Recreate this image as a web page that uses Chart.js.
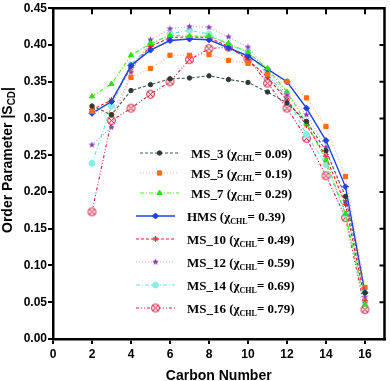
<!DOCTYPE html>
<html>
<head>
<meta charset="utf-8">
<script src="https://cdn.jsdelivr.net/npm/chart.js@4.4.1/dist/chart.umd.min.js"></script>
<style>
  html, body { margin: 0; padding: 0; background: #fff; }
  canvas { display: block; }
</style>
</head>
<body>
<canvas id="chart" width="390" height="381"></canvas>
<script>
// data
const carbonNumbers = [2, 3, 4, 5, 6, 7, 8, 9, 10, 11, 12, 13, 14, 15, 16];
const seriesNames = ['MS_3', 'MS_5', 'MS_7', 'HMS', 'MS_10', 'MS_12', 'MS_14', 'MS_16'];
const chlFractions = ['0.09', '0.19', '0.29', '0.39', '0.49', '0.59', '0.69', '0.79'];

const ms3 = [0.317, 0.305, 0.338, 0.346, 0.354, 0.355, 0.358, 0.353, 0.349, 0.336, 0.321, 0.296, 0.256, 0.194, 0.063];
const ms5 = [0.310, 0.305, 0.356, 0.368, 0.386, 0.386, 0.387, 0.379, 0.375, 0.360, 0.350, 0.328, 0.289, 0.221, 0.070];
const ms7 = [0.330, 0.347, 0.386, 0.402, 0.413, 0.412, 0.412, 0.402, 0.390, 0.368, 0.336, 0.294, 0.243, 0.170, 0.047];
const hms = [0.307, 0.323, 0.372, 0.393, 0.406, 0.408, 0.407, 0.396, 0.385, 0.367, 0.350, 0.314, 0.270, 0.207, 0.063];
const ms10 = [0.312, 0.325, 0.369, 0.398, 0.410, 0.411, 0.410, 0.398, 0.380, 0.356, 0.325, 0.291, 0.248, 0.183, 0.052];
const ms12 = [0.264, 0.288, 0.363, 0.407, 0.422, 0.425, 0.424, 0.411, 0.397, 0.365, 0.332, 0.305, 0.261, 0.187, 0.057];
const ms14 = [0.239, 0.317, 0.373, 0.400, 0.415, 0.420, 0.415, 0.400, 0.390, 0.360, 0.328, 0.278, 0.237, 0.170, 0.050];
const ms16 = [0.173, 0.297, 0.314, 0.333, 0.350, 0.380, 0.395, 0.397, 0.381, 0.348, 0.314, 0.273, 0.222, 0.165, 0.040];

const xTickValues = [0, 2, 4, 6, 8, 10, 12, 14, 16];
const yTickValues = [0, 0.05, 0.10, 0.15, 0.20, 0.25, 0.30, 0.35, 0.40, 0.45];

const sansBold = "'Liberation Sans', Arial, sans-serif";
const serif = "'Liberation Serif', 'Times New Roman', serif";

// small canvases for markers chart.js doesn't have
function makeStar(color, r) {
  const c = document.createElement('canvas');
  c.width = c.height = r * 2 + 2;
  const g = c.getContext('2d');
  g.translate(r + 1, r + 1);
  g.beginPath();
  for (let i = 0; i < 10; i++) {
    const rad = i % 2 === 0 ? r : r * 0.45;
    const a = -Math.PI / 2 + i * Math.PI / 5;
    g.lineTo(rad * Math.cos(a), rad * Math.sin(a));
  }
  g.closePath();
  g.fillStyle = color;
  g.fill();
  return c;
}

function makeCrossCircle(color, r) {
  const c = document.createElement('canvas');
  c.width = c.height = r * 2 + 2;
  const g = c.getContext('2d');
  g.translate(r + 1, r + 1);
  g.beginPath();
  g.arc(0, 0, r - 0.5, 0, Math.PI * 2);
  g.fillStyle = '#fbe0e4';
  g.fill();
  g.strokeStyle = color;
  g.lineWidth = 1;
  g.stroke();
  const d = (r - 1) * 0.7;
  g.beginPath();
  g.moveTo(-d, -d); g.lineTo(d, d);
  g.moveTo(-d, d); g.lineTo(d, -d);
  g.stroke();
  return c;
}

const seriesValues = [ms3, ms5, ms7, hms, ms10, ms12, ms14, ms16];
const styles = [
  { line: '#4a5a58', point: '#2b3a38', dash: [3, 2], pointStyle: 'circle', radius: 2.2 },
  { line: '#f7b295', point: '#ff6a13', dash: [1, 2], pointStyle: 'rect', radius: 3 },
  { line: '#55ea2c', point: '#33dd11', dash: [4, 2, 1, 2], pointStyle: 'triangle', radius: 3 },
  { line: '#1f3fe0', point: '#1f3fe0', dash: [], pointStyle: 'rectRot', radius: 3, width: 1.4 },
  { line: '#ee2233', point: '#ee2233', dash: [3, 2], pointStyle: 'star', radius: 3 },
  { line: '#c99be3', point: '#8a3db5', dash: [1, 2], pointStyle: makeStar('#8a3db5', 3.5), radius: 3.5 },
  { line: '#6ee0d4', point: '#8aece2', dash: [4, 2, 1, 2], pointStyle: 'circle', radius: 3 },
  { line: '#cc2244', point: '#cc2244', dash: [3, 2, 1, 2, 1, 2], pointStyle: makeCrossCircle('#cc2244', 4.5), radius: 4.5 }
];

const datasets = seriesNames.map((name, i) => ({
  label: name,
  data: carbonNumbers.map((c, j) => ({ x: c, y: seriesValues[i][j] })),
  borderColor: styles[i].line,
  borderWidth: styles[i].width || 1.1,
  borderDash: styles[i].dash,
  backgroundColor: styles[i].point,
  pointBackgroundColor: styles[i].point,
  pointBorderColor: styles[i].point,
  pointBorderWidth: 1,
  pointStyle: styles[i].pointStyle,
  pointRadius: styles[i].radius,
  tension: 0,
  fill: false
}));

// draws runs of text with optional subscripts, left to right
function drawRuns(ctx, runs, x, y) {
  runs.forEach(r => {
    ctx.font = r.font;
    ctx.fillText(r.text, x, y + (r.dy || 0));
    x += ctx.measureText(r.text).width;
  });
}
function runsWidth(ctx, runs) {
  let w = 0;
  runs.forEach(r => { ctx.font = r.font; w += ctx.measureText(r.text).width; });
  return w;
}

const framePlugin = {
  id: 'frame',
  afterDraw(chart) {
    const { ctx, chartArea: a, scales } = chart;
    ctx.save();
    ctx.strokeStyle = '#000';
    ctx.lineWidth = 2.5;
    ctx.beginPath();
    ctx.moveTo(a.left - 1.25, a.top);
    ctx.lineTo(a.right, a.top);
    ctx.lineTo(a.right, a.bottom + 1.25);
    ctx.stroke();
    ctx.lineWidth = 2;
    ctx.beginPath();
    xTickValues.slice(1).forEach(v => {
      const px = scales.x.getPixelForValue(v);
      ctx.moveTo(px, a.top);
      ctx.lineTo(px, a.top + 6);
    });
    yTickValues.slice(1, -1).forEach(v => {
      const py = scales.y.getPixelForValue(v);
      ctx.moveTo(a.right, py);
      ctx.lineTo(a.right - 5, py);
    });
    ctx.stroke();
    ctx.restore();
  }
};

const titlesPlugin = {
  id: 'titles',
  afterDraw(chart) {
    const { ctx, chartArea: a } = chart;
    ctx.save();
    ctx.fillStyle = '#000';
    ctx.textBaseline = 'alphabetic';
    ctx.textAlign = 'left';
    // x title
    const xRuns = [{ text: 'Carbon Number', font: 'bold 14px ' + sansBold }];
    drawRuns(ctx, xRuns, (a.left + a.right) / 2 - runsWidth(ctx, xRuns) / 2, 380);
    // y title, rotated
    const yRuns = [
      { text: 'Order Parameter |S', font: 'bold 14px ' + sansBold },
      { text: 'CD', font: 'bold 10px ' + sansBold, dy: 3 },
      { text: '|', font: 'bold 14px ' + sansBold }
    ];
    ctx.translate(12, 160);
    ctx.rotate(-Math.PI / 2);
    drawRuns(ctx, yRuns, -runsWidth(ctx, yRuns) / 2, 0);
    ctx.restore();
  }
};

const legendPlugin = {
  id: 'innerLegend',
  afterDraw(chart) {
    const { ctx } = chart;
    const drawPoint = Chart.helpers && Chart.helpers.drawPoint;
    ctx.save();
    chart.data.datasets.forEach((ds, i) => {
      const rowY = i < 3 ? 153 + i * 20 : 216 + (i - 3) * 23;
      const x0 = i < 3 ? 140 : 136;
      ctx.strokeStyle = ds.borderColor;
      ctx.lineWidth = ds.borderWidth;
      ctx.setLineDash(ds.borderDash);
      ctx.beginPath();
      ctx.moveTo(x0, rowY);
      ctx.lineTo(x0 + 39, rowY);
      ctx.stroke();
      ctx.setLineDash([]);
      if (drawPoint) {
        ctx.fillStyle = ds.pointBackgroundColor;
        ctx.strokeStyle = ds.pointBorderColor;
        ctx.lineWidth = 1;
        drawPoint(ctx, { pointStyle: ds.pointStyle, radius: ds.pointRadius, rotation: 0, borderWidth: 1 }, x0 + 19.5, rowY);
      }
      ctx.fillStyle = '#000';
      ctx.textBaseline = 'alphabetic';
      ctx.textAlign = 'left';
      drawRuns(ctx, [
        { text: seriesNames[i] + ' (', font: 'bold 13px ' + serif },
        { text: 'χ', font: 'bold 13px ' + serif },
        { text: 'CHL', font: 'bold 8px ' + serif, dy: 3 },
        { text: '= ' + chlFractions[i] + ')', font: 'bold 13px ' + serif }
      ], x0 + 51, rowY + 4.5);
    });
    ctx.restore();
  }
};

new Chart(document.getElementById('chart'), {
  type: 'line',
  data: { datasets },
  options: {
    responsive: false,
    devicePixelRatio: 1,
    animation: false,
    layout: { padding: { top: 5, right: 3, left: 0, bottom: 0 } },
    plugins: { legend: { display: false }, tooltip: { enabled: false } },
    scales: {
      x: {
        type: 'linear',
        min: 0,
        max: 17,
        afterBuildTicks: s => { s.ticks = xTickValues.map(v => ({ value: v })); },
        afterFit: s => { s.height = 42; },
        ticks: { color: '#000', font: { family: sansBold, size: 12, weight: 'bold' }, padding: 3, maxRotation: 0 },
        grid: { drawOnChartArea: false, tickLength: 5, color: '#000', lineWidth: 2 },
        border: { color: '#000', width: 2.5 }
      },
      y: {
        min: 0,
        max: 0.45,
        afterBuildTicks: s => { s.ticks = yTickValues.map(v => ({ value: v })); },
        afterFit: s => { s.width = 53; },
        ticks: { color: '#000', font: { family: sansBold, size: 12, weight: 'bold' }, padding: 1, callback: v => Number(v).toFixed(2) },
        grid: { drawOnChartArea: false, tickLength: 5, color: '#000', lineWidth: 2 },
        border: { color: '#000', width: 2.5 }
      }
    }
  },
  plugins: [framePlugin, titlesPlugin, legendPlugin]
});
</script>
</body>
</html>
